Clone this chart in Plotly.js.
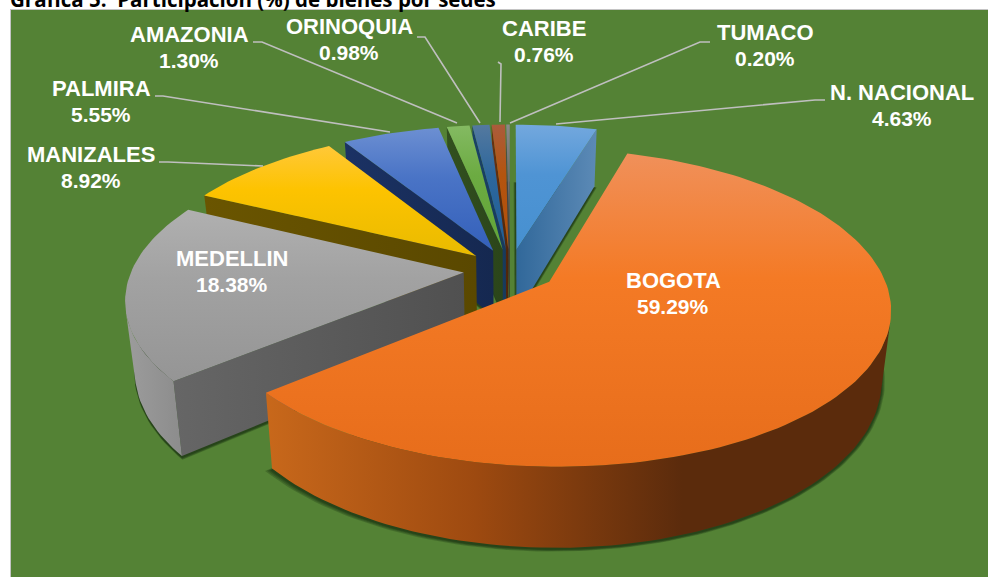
<!DOCTYPE html>
<html><head><meta charset="utf-8">
<script src="https://cdn.plot.ly/plotly-3.0.1.min.js"></script>
<style>html,body{margin:0;padding:0;background:#fff;overflow:hidden}#c{width:988px;height:577px}</style>
</head><body><div id="c"></div>
<script>
const categories=["N. NACIONAL","BOGOTA","MEDELLIN","MANIZALES","PALMIRA","AMAZONIA","ORINOQUIA","CARIBE","TUMACO"];
const values=[4.63,59.29,18.38,8.92,5.55,1.30,0.98,0.76,0.20];
const titleText="Gráfica 5.  Participación (%) de bienes por sedes";
// drawing styles per slice
const topColors=[["#73a8de","#4f94d4","#4690d0"],["#f0905a","#f47a25","#e76d1b"],["#b0b0b0","#a2a2a2","#959595"],["#ffc838","#fdc300","#e9bb00"],["#6c8fd2","#4a74c6","#3460ba"],["#84ba62","#6cab42","#62a537"],["#54799f","#2d679c","#1f5e98"],["#aa5c3c","#b4540f","#b24f0c"],["#8a8a8a","#6e6e6e","#606060"]];
const rimColors=[["#3a6f9f","#3a6f9f"],["#c8681b","#9e4a10","#5b2b0c","#5b2b0c"],["#9c9c9c","#8c8c8c"],["#6a5500","#5f4c00"],["#1d3566","#162a54"],["#32501f","#2e4a1c"],["#1a4266","#173a5c"],["#6a3210","#5a2a0b"],["#444444","#444444"]];
const cutColors=[["#31689a","#5c8ab6"],["#8f4412","#5b2b0c"],["#666666","#505050"],["#6a5500","#5a4800"],["#1b3264","#152850"],["#32501f","#2b451a"],["#1a4266","#173a5c"],["#6a3210","#4f250a"],["#444444","#444444"]];
const labelPos=[[902,105],[673,293],[232,271],[91,167],[101,101],[189,47],[349,39],[544,41],[765,45]];
const leaders=[[[825,100],[815,100],[556,124]],null,null,[[159,162],[168,162],[263,166]],[[155,96],[163,96],[390,132]],[[253,42],[262,42],[457,123]],[[417,37],[425,37],[480,123]],[[498,62],[501,64],[500,122]],[[710,42],[700,42],[510,123]]];
// projection of the tilted pie
const Ox=510,Oy=270,A=151,B=332,P=0.161,pull=0.14,H=67,shrink=0.975;
const total=values.reduce((a,b)=>a+b,0);
const rad=d=>d*Math.PI/180;
let cum=0;
const ranges=values.map(v=>{const s=cum/total*360;cum+=v;return [s,cum/total*360];});
function pt(i,th,r,low){
  const mid=(ranges[i][0]+ranges[i][1])/2;
  const u=r*Math.sin(rad(th))+pull*Math.sin(rad(mid));
  const v=-r*Math.cos(rad(th))-pull*Math.cos(rad(mid));
  const den=1-P*v;
  let x=Ox+B*u/den,y=Oy+A*v/den;
  if(low){x=Ox+(x-Ox)*shrink;y+=H/den;}
  return [x,y];
}
function area(p){let s=0;for(let i=0;i<p.length;i++){const a=p[i],b=p[(i+1)%p.length];s+=a[0]*b[1]-b[0]*a[1];}return s/2;}
function poly(p,extra,name){
  const xs=p.map(q=>q[0]),ys=p.map(q=>q[1]);
  return Object.assign({type:"scatter",mode:"lines",x:xs.concat(xs[0]),y:ys.concat(ys[0]),fill:"toself",line:{width:0},hoverinfo:"skip",showlegend:false,name:name||""},extra);
}
function hGrad(c,p){const xs=p.map(q=>q[0]);const n=c.length-1;return {fillgradient:{type:"horizontal",colorscale:c.map((col,k)=>[k/n,col]),start:Math.min(...xs),stop:Math.max(...xs)},fillcolor:c[0]};}
function arcPts(i,low){const out=[];const [a,b]=ranges[i];const n=Math.max(4,Math.ceil((b-a)/1.5));for(let k=0;k<=n;k++){out.push(pt(i,a+(b-a)*k/n,1,low));}return out;}
const traces=[];
// soft shadow under each slice
values.forEach((_,i)=>{
  const low=[pt(i,0,0,true)].concat(arcPts(i,true));
  const cx=low.reduce((s,q)=>s+q[0],0)/low.length,cy=low.reduce((s,q)=>s+q[1],0)/low.length;
  const w=Math.max(...low.map(q=>Math.hypot(q[0]-cx,q[1]-cy)));
  [7,5,3,1.5].forEach(px=>{
    const k=1+px/w;
    traces.push(poly(low.map(q=>[cx+(q[0]-cx)*k,cy+(q[1]-cy)*k+1.5]),{fillcolor:"rgba(18,38,14,0.24)"},categories[i]+" sombra"));
  });
});
// back to front
const order=[8,7,6,5,4,3,2,0,1];
order.forEach(i=>{
  const name=categories[i];
  const apexT=pt(i,0,0,false),apexB=pt(i,0,0,true);
  const up=arcPts(i,false),lo=arcPts(i,true);
  const edges=[[apexT,up[0],lo[0],apexB],[up[up.length-1],apexT,apexB,lo[lo.length-1]]];
  edges.forEach(q=>{ if(area(q)<0) traces.push(poly(q,hGrad(cutColors[i],q),name+" corte")); });
  let run=[];
  const flush=()=>{ if(run.length>1){ const seg=run.map(k=>up[k]).concat(run.slice().reverse().map(k=>lo[k])); traces.push(poly(seg,hGrad(rimColors[i],seg),name+" borde")); } run=[]; };
  for(let k=0;k<up.length-1;k++){
    const vis=area([up[k],up[k+1],lo[k+1],lo[k]])<0;
    if(vis){ if(!run.length) run.push(k); run.push(k+1);} else flush();
  }
  flush();
  const face=[apexT].concat(up);
  const yTop=Math.min(...face.map(q=>q[1]));
  traces.push(poly(face,{fillcolor:topColors[i][1],fillgradient:{type:"vertical",colorscale:[[0,topColors[i][0]],[0.4,topColors[i][1]],[1,topColors[i][2]]],start:Math.max(yTop,123),stop:Math.max(...face.map(q=>q[1]))}},name));
});
leaders.forEach((l,i)=>{ if(l) traces.push({type:"scatter",mode:"lines",x:l.map(q=>q[0]),y:l.map(q=>q[1]),line:{color:"#bfbfbf",width:1.6},hoverinfo:"skip",showlegend:false,name:categories[i]+" guía"}); });
const labelFont=size=>({family:"Liberation Sans, Arial, sans-serif",size:size,color:"#ffffff",weight:700});
const annotations=[];
categories.forEach((c,i)=>{
  annotations.push({xref:"x",yref:"y",x:labelPos[i][0],y:labelPos[i][1]-13,xanchor:"center",yanchor:"middle",showarrow:false,text:c,font:labelFont(22)});
  annotations.push({xref:"x",yref:"y",x:labelPos[i][0],y:labelPos[i][1]+13,xanchor:"center",yanchor:"middle",showarrow:false,text:values[i].toFixed(2)+"%",font:labelFont(21)});
});
const layout={width:988,height:577,margin:{l:11,r:0,t:10,b:0,pad:0},paper_bgcolor:"#ffffff",plot_bgcolor:"#548235",showlegend:false,
  title:{text:titleText,x:10/988,xanchor:"left",xref:"container",y:0.9995,yanchor:"middle",yref:"container",font:{family:"Open Sans, sans-serif",size:20.5,color:"#000000",weight:700}},
  xaxis:{range:[11,988],visible:true,showgrid:false,zeroline:false,showticklabels:false,ticks:"",showline:true,mirror:true,linecolor:"#c4c4c4",linewidth:1,fixedrange:true},
  yaxis:{range:[577,10],visible:true,showgrid:false,zeroline:false,showticklabels:false,ticks:"",showline:true,mirror:true,linecolor:"#c4c4c4",linewidth:1,fixedrange:true},
  annotations:annotations};
Plotly.newPlot("c",traces,layout,{displayModeBar:false,staticPlot:true});
</script></body></html>
